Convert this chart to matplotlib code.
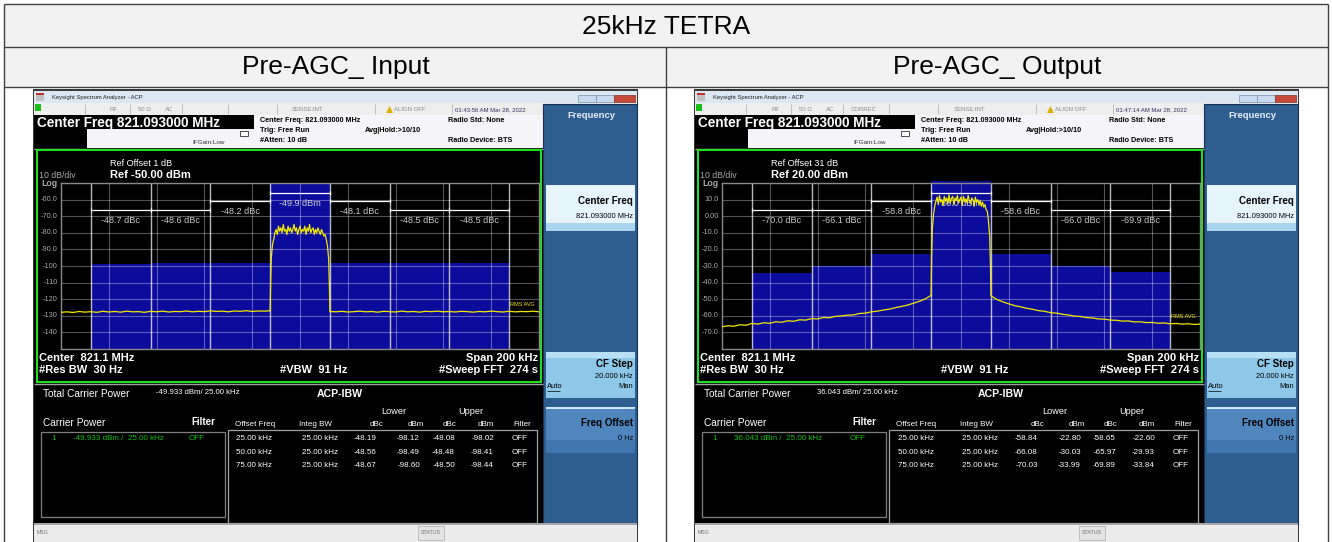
import matplotlib
matplotlib.use('Agg')
import matplotlib.pyplot as plt
from matplotlib.patches import Rectangle, Polygon
from matplotlib.transforms import blended_transform_factory

plt.rcParams['font.family'] = ['Liberation Sans', 'DejaVu Sans']

# ---------------- data ----------------
TITLE = '25kHz TETRA'
COL_TITLES = ['Pre-AGC_ Input', 'Pre-AGC_ Output']

ref_levels = [-50.0, 20.0]
ref_offsets = [1, 31]
carrier_power = [-49.933, 36.043]
offset_freqs = [25.0, 50.0, 75.0]
integ_bw = [25.0, 25.0, 25.0]
lower_dbc = [[-48.19, -48.56, -48.67], [-58.84, -66.08, -70.03]]
lower_dbm = [[-98.12, -98.49, -98.60], [-22.80, -30.03, -33.99]]
upper_dbc = [[-48.08, -48.48, -48.50], [-58.65, -65.97, -69.89]]
upper_dbm = [[-98.02, -98.41, -98.44], [-22.60, -29.93, -33.84]]
timestamps = ['01:43:56 AM Mar 28, 2022', '01:47:14 AM Mar 28, 2022']
y_tick_labels = [['Log', '-60.0', '-70.0', '-80.0', '-90.0', '-100', '-110', '-120', '-130', '-140'],
                 ['Log', '10.0', '0.00', '-10.0', '-20.0', '-30.0', '-40.0', '-50.0', '-60.0', '-70.0']]

floor_lo_f = [-100.0, -97.5, -95.0, -92.5, -90.0, -87.5, -85.0, -82.5, -80.0, -77.5, -75.0, -72.5,
              -70.0, -67.5, -65.0, -62.5, -60.0, -57.5, -55.0, -52.5, -50.0, -47.5, -45.0, -42.5,
              -40.0, -37.5, -35.0, -32.5, -30.0, -27.5, -25.0, -22.5, -20.0, -17.5, -15.0, -12.6]
carrier_f = [-12.5, -12.3, -12.0, -11.5, -11.0, -10.5, -10.0, -9.5, -9.0, -8.5, -8.0, -7.5, -7.0,
             -6.5, -6.0, -5.5, -5.0, -4.5, -4.0, -3.5, -3.0, -2.5, -2.0, -1.5, -1.0, -0.5, 0.0,
             0.5, 1.0, 1.5, 2.0, 2.5, 3.0, 3.5, 4.0, 4.5, 5.0, 5.5, 6.0, 6.5, 7.0, 7.5, 8.0, 8.5,
             9.0, 9.5, 10.0, 10.5, 11.0, 11.5, 12.0, 12.3, 12.5]
floor_hi_f = [12.6, 15.0, 17.5, 20.0, 22.5, 25.0, 27.5, 30.0, 32.5, 35.0, 37.5, 40.0, 42.5, 45.0,
              47.5, 50.0, 52.5, 55.0, 57.5, 60.0, 62.5, 65.0, 67.5, 70.0, 72.5, 75.0, 77.5, 80.0,
              82.5, 85.0, 87.5, 90.0, 92.5, 95.0, 97.5, 100.0]
trace_freq_khz = floor_lo_f + carrier_f + floor_hi_f

trace_in_dbm = ([-127.9, -127.6, -128.0, -127.4, -127.8, -127.5, -127.9, -127.3, -127.7, -127.4, -127.8, -127.2,
                 -127.6, -127.5, -127.9, -127.3, -127.6, -127.2, -127.7, -127.4, -127.5, -127.1, -127.6, -127.3,
                 -127.5, -127.0, -127.4, -127.2, -127.6, -127.1, -127.3, -126.9, -127.4, -127.1, -127.2, -127.0]
                + [-127.0, -110.0, -95.0, -87.0,
                   -84.0, -80.0, -78.0, -81.0, -76.0, -79.0, -77.0, -80.0, -75.0, -79.0,
                   -78.0, -81.0, -76.0, -79.0, -77.0, -80.0, -78.0, -75.0, -79.0, -77.0,
                   -81.0, -78.0, -76.0, -80.0, -78.0, -79.0, -76.0, -81.0, -77.0, -79.0,
                   -75.0, -80.0, -78.0, -77.0, -81.0, -78.0, -80.0, -77.0, -79.0, -81.0,
                   -78.0, -80.0, -82.0, -81.0, -84.0,
                   -88.0, -96.0, -112.0, -127.5]
                + [-127.4, -127.6, -127.3, -127.7, -127.5, -127.2, -127.6, -127.4, -127.8, -127.3, -127.5, -127.7,
                   -127.2, -127.6, -127.4, -127.8, -127.3, -127.5, -127.2, -127.6, -127.4, -127.7, -127.3, -127.5,
                   -127.8, -127.4, -127.6, -127.2, -127.5, -127.7, -127.3, -127.6, -127.4, -127.5, -127.2, -127.6])

trace_out_dbm = ([-66.6, -66.0, -66.3, -65.4, -65.7, -64.6, -65.0, -64.2, -64.5, -63.6, -63.9, -63.0,
                  -63.3, -62.4, -62.6, -61.7, -61.9, -61.0, -61.2, -60.3, -60.1, -59.6, -59.5, -58.6,
                  -58.4, -57.6, -57.2, -56.5, -56.0, -55.1, -54.4, -53.6, -52.5, -51.3, -49.8, -47.8]
                 + [-47.5, -25.0, -8.0, 1.0,
                    6.0, 9.0, 11.5, 7.0, 12.5, 8.5, 10.0, 6.5, 12.0, 9.0,
                    11.0, 7.5, 13.0, 8.0, 10.5, 12.0, 7.0, 11.0, 9.5, 12.5,
                    8.0, 10.0, 11.5, 6.5, 12.0, 9.0, 10.5, 8.0, 12.5, 9.5,
                    7.5, 11.0, 10.0, 6.0, 11.5, 8.5, 10.0, 7.0, 9.5, 6.0,
                    8.5, 5.5, 7.0, 4.0, 3.0,
                    -3.0, -12.0, -28.0, -47.5]
                 + [-48.0, -50.2, -51.6, -52.8, -53.9, -54.6, -55.5, -56.1, -56.9, -57.3, -58.1, -58.4,
                    -59.1, -59.5, -60.2, -60.4, -61.1, -61.3, -61.9, -62.0, -62.6, -62.7, -63.2, -63.1,
                    -63.7, -63.6, -64.1, -64.0, -64.5, -64.3, -64.8, -64.6, -65.0, -64.8, -65.2, -65.0])
traces = [trace_in_dbm, trace_out_dbm]

# ---------------- figure ----------------
W, H = 1332, 542
fig = plt.figure(figsize=(W / 100, H / 100), dpi=100)
ov = fig.add_axes([0, 0, 1, 1], zorder=0)
ov.set_xlim(0, W)
ov.set_ylim(H, 0)
ov.axis('off')

def R(x0, y0, x1, y1, fc, ec='none', lw=0, z=1):
    ov.add_patch(Rectangle((x0, y0), x1 - x0, y1 - y0, facecolor=fc, edgecolor=ec, linewidth=lw, zorder=z))

def L(x0, y0, x1, y1, c, lw=1, z=2):
    ov.plot([x0, x1], [y0, y1], color=c, lw=lw, zorder=z, solid_capstyle='butt')

def T(x, y, s, size, color='black', weight='normal', ha='left', va='center', z=5):
    ov.text(x, y, s, fontsize=size, color=color, fontweight=weight, ha=ha, va=va, zorder=z)

# outer table
R(0, 0, W, H, 'white', z=0)
R(4, 4, 1328, 87, '#f2f2f2', z=0.5)
L(4, 4, 1328, 4, '#404040', 1)
L(4, 47, 1328, 47, '#404040', 1)
L(4, 87, 1328, 87, '#404040', 1)
L(4, 4, 4, 542, '#404040', 1)
L(1328, 4, 1328, 542, '#404040', 1)
L(666, 47, 666, 542, '#404040', 1)
T(666, 27, TITLE, 19, ha='center')
T(336, 67, COL_TITLES[0], 19, ha='center')
T(997, 67, COL_TITLES[1], 19, ha='center')

GRID_X0, GRID_X1, GRID_Y0, GRID_Y1 = 61, 539, 183, 349
BLUE = '#0c0c9c'
GRAY_T = '#a8a8a8'

def fmt_khz(v):
    return f'{v:.2f} kHz'

for i in range(2):
    dx = 0 if i == 0 else 661
    X = lambda x: x + dx
    ref = ref_levels[i]
    # window frame
    R(X(33), 89, X(638), 542, '#3a3a3a', z=1)
    R(X(34), 91, X(637), 103, '#dce7f4', z=1.1)
    R(X(36), 93, X(44), 101, '#c0c0c0', z=1.2)
    R(X(36), 93, X(44), 95, '#c03030', z=1.3)
    ov.text(X(52), 97, 'Keysight Spectrum Analyzer - ACP', fontsize=4.2, color='#202020', va='center', zorder=5)
    R(X(578), 95, X(596), 102, '#c9d9ee', ec='#7890b0', lw=0.5, z=1.2)
    R(X(596), 95, X(614), 102, '#c9d9ee', ec='#7890b0', lw=0.5, z=1.2)
    R(X(614), 95, X(635), 102, '#c8493a', ec='#803020', lw=0.5, z=1.2)
    # status row
    R(X(34), 103, X(637), 115, '#eeeeee', z=1.1)
    for sx in [85, 130, 182, 228, 277, 375, 452]:
        L(X(sx), 104, X(sx), 114, '#b8b8b8', 0.6, z=1.2)
    R(X(35), 104, X(41), 111, '#18c018', z=1.2)
    T(X(110), 109.5, 'RF', 4.3, '#8a8a8a')
    T(X(138), 109.5, '50 Ω', 4.3, '#8a8a8a')
    T(X(165), 109.5, 'AC', 4.3, '#8a8a8a')
    if i == 1:
        T(X(190), 109.5, 'CORREC', 4.3, '#8a8a8a')
    T(X(308), 109.5, 'SENSE:INT', 4.3, '#8a8a8a', ha='center')
    ov.add_patch(Polygon([[X(386), 113], [X(393), 113], [X(389.5), 106]], closed=True, fc='#e0b000', ec='none', zorder=5))
    T(X(394), 109.5, 'ALIGN OFF', 4.3, '#8a8a8a')
    T(X(455), 109.5, timestamps[i], 4.3, '#303060')
    # center freq bar
    R(X(34), 115, X(254), 129, 'black', z=1.2)
    T(X(37), 122.5, 'Center Freq 821.093000 MHz', 9.8, 'white', 'bold')
    R(X(34), 129, X(87), 148, 'black', z=1.2)
    R(X(87), 129, X(254), 148, '#f5f4f8', z=1.2)
    R(X(254), 115, X(543), 148, '#f5f4f8', z=1.2)
    T(X(192), 142, 'IFGain:Low', 4.6, '#303030')
    R(X(240), 131, X(248), 136, 'white', ec='#303030', lw=0.6, z=1.3)
    T(X(260), 121, 'Center Freq: 821.093000 MHz', 5.2, 'black', 'bold')
    T(X(260), 131, 'Trig: Free Run', 5.2, 'black', 'bold')
    T(X(260), 141, '#Atten: 10 dB', 5.2, 'black', 'bold')
    T(X(365), 131, 'Avg|Hold:>10/10', 5.2, 'black', 'bold')
    T(X(448), 121, 'Radio Std: None', 5.2, 'black', 'bold')
    T(X(448), 141, 'Radio Device: BTS', 5.2, 'black', 'bold')
    # soft key panel
    R(X(543), 104, X(637), 525, '#2e5e8f', ec='#1a3050', lw=0.8, z=1.2)
    T(X(591), 116, 'Frequency', 6.8, '#e8eef8', 'bold', ha='center')
    R(X(546), 185, X(635), 231, '#e6f4fc', z=1.3)
    R(X(546), 223, X(635), 231, '#a9d5ee', z=1.35)
    T(X(633), 201, 'Center Freq', 7, 'black', 'bold', ha='right')
    T(X(633), 216, '821.093000 MHz', 5.4, 'black', ha='right')
    R(X(546), 352, X(635), 398, '#8ec8e8', z=1.3)
    R(X(546), 352, X(635), 358, '#b8e0f4', z=1.35)
    T(X(633), 364, 'CF Step', 7, 'black', 'bold', ha='right')
    T(X(633), 376, '20.000 kHz', 5.4, 'black', ha='right')
    T(X(547), 387, 'Auto', 5.4, 'black')
    L(X(547), 391, X(560), 391, 'black', 0.5, z=5)
    T(X(633), 387, 'Man', 5.4, 'black', ha='right')
    R(X(546), 407, X(635), 453, '#4f86bd', z=1.3)
    R(X(546), 407, X(635), 409, '#d0e8f8', z=1.35)
    R(X(546), 440, X(635), 453, '#3f76ad', z=1.35)
    T(X(633), 423, 'Freq Offset', 7, 'black', 'bold', ha='right')
    T(X(633), 439, '0 Hz', 5.4, 'black', ha='right')
    # graph area
    R(X(34), 148, X(543), 523, 'black', z=1.2)
    L(X(34), 148.5, X(543), 148.5, '#b0b0b0', 1, z=1.3)
    R(X(36.5), 150, X(540.5), 382, 'none', ec='#22dd22', lw=1.5, z=3)
    L(X(34), 384, X(543), 384, '#a0a0a0', 1, z=1.3)
    T(X(110), 163, f'Ref Offset {ref_offsets[i]} dB', 6.6, 'white')
    T(X(110), 175, f'Ref {ref:.2f} dBm', 8.0, 'white', 'bold')
    T(X(39), 176, '10 dB/div', 6.3, GRAY_T)
    # bottom of graph
    T(X(39), 358, 'Center  821.1 MHz', 8.0, 'white', 'bold')
    T(X(39), 370, '#Res BW  30 Hz', 8.0, 'white', 'bold')
    T(X(280), 370, '#VBW  91 Hz', 8.0, 'white', 'bold')
    T(X(538), 358, 'Span 200 kHz', 8.0, 'white', 'bold', ha='right')
    T(X(538), 370, '#Sweep FFT  274 s', 8.0, 'white', 'bold', ha='right')
    # result panel
    T(X(43), 394, 'Total Carrier Power', 7.3, 'white')
    T(X(156), 393, f'{carrier_power[i]:.3f} dBm/ 25.00 kHz', 5.6, 'white')
    T(X(317), 394, 'ACP-IBW', 7.6, 'white', 'bold')
    T(X(43), 423, 'Carrier Power', 7.3, 'white')
    T(X(191), 422, 'Filter', 7.0, 'white', 'bold')
    R(X(41), 431.5, X(225), 517, 'none', ec='#808080', lw=0.9, z=3)
    R(X(228), 430, X(536.5), 523, 'none', ec='#a0a0a0', lw=0.9, z=3)
    T(X(51), 438.5, '1', 5.8, '#10c010')
    T(X(73), 438.5, f'{carrier_power[i]:.3f} dBm /  25.00 kHz', 5.8, '#10c010')
    T(X(189), 438.5, 'OFF', 5.8, '#10c010')
    T(X(394), 411.5, 'Lower', 6.6, 'white', ha='center')
    T(X(471), 411.5, 'Upper', 6.6, 'white', ha='center')
    T(X(235), 424, 'Offset Freq', 5.8, 'white')
    T(X(299), 424, 'Integ BW', 5.8, 'white')
    for xr, s in [(383, 'dBc'), (424, 'dBm'), (456, 'dBc'), (494, 'dBm'), (531.5, 'Filter')]:
        T(X(xr), 424, s, 5.8, 'white', ha='right')
    for k in range(3):
        yy = 438.3 + k * 13.8
        T(X(236.5), yy, fmt_khz(offset_freqs[k]), 5.8, 'white')
        T(X(301.5), yy, fmt_khz(integ_bw[k]), 5.8, 'white')
        T(X(376.7), yy, f'{lower_dbc[i][k]:.2f}', 5.8, 'white', ha='right')
        T(X(420), yy, f'{lower_dbm[i][k]:.2f}', 5.8, 'white', ha='right')
        T(X(455), yy, f'{upper_dbc[i][k]:.2f}', 5.8, 'white', ha='right')
        T(X(494), yy, f'{upper_dbm[i][k]:.2f}', 5.8, 'white', ha='right')
        T(X(528), yy, 'OFF', 5.8, 'white', ha='right')
    # msg bar
    R(X(34), 523, X(637), 542, '#ececec', z=1.4)
    L(X(34), 524, X(637), 524, '#9a9a9a', 1.2, z=1.5)
    T(X(37), 533, 'MSG', 3.8, '#707070')
    R(X(418), 526, X(444), 540, '#e4e4e4', ec='#b0b0b0', lw=0.5, z=1.5)
    T(X(431), 533, 'STATUS', 3.8, '#707070', ha='center')

    # ---------- spectrum axes ----------
    ax = fig.add_axes([X(GRID_X0) / W, 1 - GRID_Y1 / H, (GRID_X1 - GRID_X0) / W, (GRID_Y1 - GRID_Y0) / H], zorder=2)
    ax.set_facecolor('black')
    ax.set_xlim(-100, 100)
    bottom = ref - 100
    ax.set_ylim(bottom, ref)
    for s in ax.spines.values():
        s.set_color('#8a8a8a')
        s.set_linewidth(1)
    ax.set_xticks([])
    ax.set_yticks([])
    # integrated power bars
    top_clip = ref + 1.2
    ax.bar(0, min(carrier_power[i], top_clip) - bottom, bottom=bottom, width=25, color=BLUE,
           zorder=1, clip_on=False, linewidth=0)
    for k, off in enumerate(offset_freqs):
        ax.bar(-off, lower_dbm[i][k] - bottom, bottom=bottom, width=25, color=BLUE, zorder=1, linewidth=0)
        ax.bar(off, upper_dbm[i][k] - bottom, bottom=bottom, width=25, color=BLUE, zorder=1, linewidth=0)
    # grid
    for gx in range(-80, 100, 20):
        ax.axvline(gx, color='white', alpha=0.33, lw=0.8, zorder=2)
    for gy in range(1, 10):
        ax.axhline(bottom + gy * 10, color='white', alpha=0.33, lw=0.8, zorder=2)
    # band edges
    for e in [-87.5, -62.5, -37.5, -12.5, 12.5, 37.5, 62.5, 87.5]:
        ax.axvline(e, color='white', alpha=0.72, lw=1.0, zorder=2.5)
    # dBc lines & labels
    bt = blended_transform_factory(ax.transData, ax.transAxes)
    ax.plot([-12.5, 12.5], [0.94, 0.94], transform=bt, color='white', lw=0.9, zorder=3,
            marker='|', markersize=3, markeredgewidth=0.8)
    ax.text(0, 0.875, f'{carrier_power[i]:.1f} dBm', transform=bt, color='#d0d0d0', fontsize=6.6,
            ha='center', va='center', zorder=3)
    levels = [0.892, 0.837, 0.837]
    labels_y = [0.831, 0.776, 0.776]
    for k, off in enumerate(offset_freqs):
        for sgn, vals in [(-1, lower_dbc[i]), (1, upper_dbc[i])]:
            c = sgn * off
            ax.plot([c - 12.5, c + 12.5], [levels[k], levels[k]], transform=bt, color='white', lw=0.9,
                    zorder=3, marker='|', markersize=3, markeredgewidth=0.8)
            ax.text(c, labels_y[k], f'{vals[k]:.1f} dBc', transform=bt, color='#c8c8c8', fontsize=6.6,
                    ha='center', va='center', zorder=3)
    # trace
    ax.plot(trace_freq_khz, traces[i], color='#f0e800', lw=0.9, zorder=4)
    rms_y = traces[i][-1] + 3
    ax.text(88, rms_y, 'RMS AVG', color='#f0e800', fontsize=4.0, ha='left', va='bottom', zorder=5)
    # y labels
    for k, lab in enumerate(y_tick_labels[i]):
        yv = ref - 10 * k
        ax.text(-101.3, yv, lab, color=GRAY_T, fontsize=5.3 if k else 6.3,
                fontweight='bold' if k == 0 else 'normal', ha='right', va='center', clip_on=False,
                transform=ax.transData)

fig.savefig('out.png', dpi=100)
